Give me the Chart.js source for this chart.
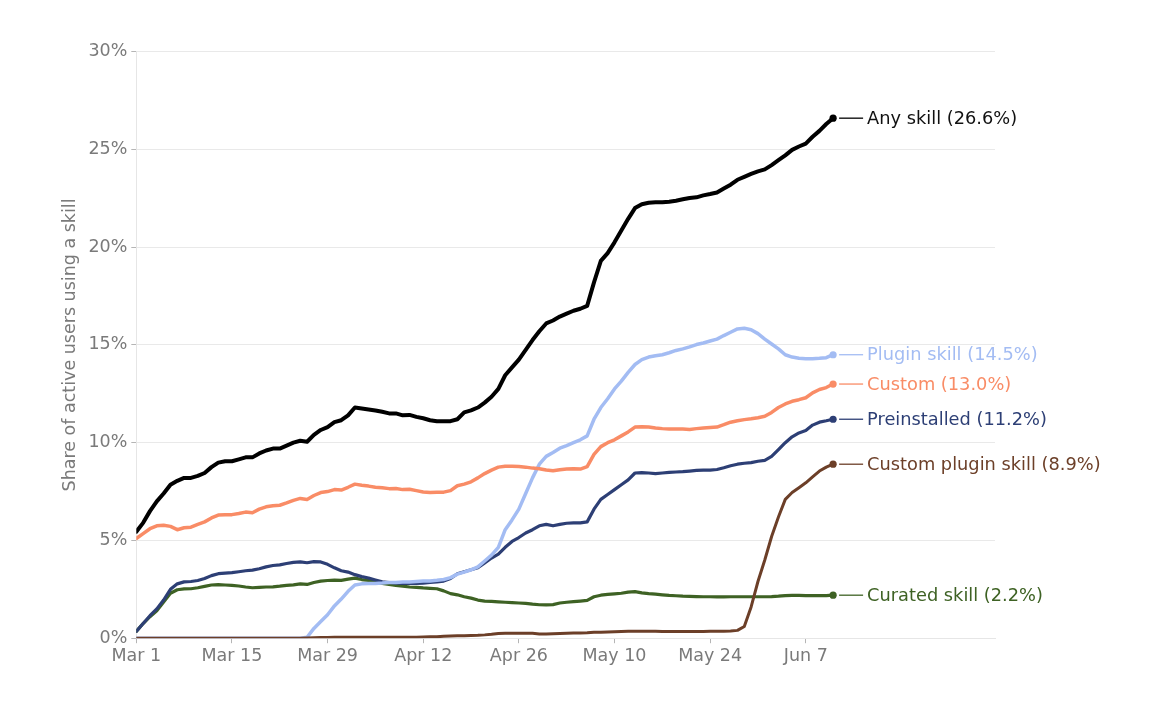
<!DOCTYPE html>
<html>
<head>
<meta charset="utf-8">
<script src="https://cdn.jsdelivr.net/npm/chart.js@4.4.1/dist/chart.umd.min.js"></script>
<style>
  html, body { margin: 0; padding: 0; background: #fff; }
  #wrap { width: 1157px; height: 708px; }
</style>
</head>
<body>
<div id="wrap"><canvas id="chart" width="1157" height="708"></canvas></div>
<script>
/* daily share of active users, Mar 1 (day 0) .. Jun 11 (day 102) */
var TICK_DAYS = [0, 14, 28, 42, 56, 70, 84, 98];
var TICK_LABELS = ['Mar 1', 'Mar 15', 'Mar 29', 'Apr 12', 'Apr 26', 'May 10', 'May 24', 'Jun 7'];
var Y_TICKS = [0, 5, 10, 15, 20, 25, 30];

var ANY_SKILL = [
  5.45, 5.9, 6.5, 7.0, 7.4, 7.85, 8.05, 8.2, 8.2, 8.3,
  8.45, 8.75, 8.98, 9.05, 9.05, 9.15, 9.25, 9.25, 9.45, 9.6,
  9.7, 9.7, 9.85, 10.0, 10.1, 10.05, 10.4, 10.65, 10.8, 11.05,
  11.15, 11.4, 11.8, 11.75, 11.7, 11.65, 11.58, 11.5, 11.5, 11.4,
  11.42, 11.32, 11.25, 11.15, 11.1, 11.1, 11.1, 11.2, 11.55, 11.65,
  11.8, 12.05, 12.35, 12.75, 13.45, 13.85, 14.25, 14.75, 15.25, 15.7,
  16.1, 16.25, 16.45, 16.6, 16.75, 16.85, 17.0, 18.2, 19.3, 19.7,
  20.25, 20.85, 21.45, 22.0, 22.2, 22.27, 22.3, 22.3, 22.33, 22.38,
  22.45, 22.52, 22.55, 22.65, 22.72, 22.8, 23.0, 23.2, 23.45, 23.6,
  23.75, 23.88, 23.98, 24.2, 24.45, 24.7, 24.98, 25.15, 25.3, 25.65,
  25.95, 26.3, 26.6
];

var PLUGIN_SKILL = [
  0, 0, 0, 0, 0, 0, 0, 0, 0, 0,
  0, 0, 0, 0, 0, 0, 0, 0, 0, 0,
  0, 0, 0, 0, 0, 0.05, 0.5, 0.85, 1.2, 1.65,
  2.0, 2.4, 2.72, 2.78, 2.8, 2.8, 2.82, 2.85, 2.85, 2.87,
  2.88, 2.9, 2.92, 2.93, 2.96, 3.0, 3.1, 3.28, 3.38, 3.5,
  3.65, 3.95, 4.25, 4.65, 5.55, 6.05, 6.6, 7.4, 8.2, 8.9,
  9.3, 9.5, 9.72, 9.85, 10.0, 10.15, 10.35, 11.2, 11.8, 12.25,
  12.75, 13.15, 13.6, 14.0, 14.25, 14.38, 14.45, 14.5, 14.6, 14.72,
  14.8, 14.9, 15.02, 15.1, 15.2, 15.3, 15.48, 15.65, 15.82, 15.85,
  15.78, 15.58, 15.3, 15.05, 14.8, 14.5, 14.38, 14.32, 14.3, 14.3,
  14.32, 14.35, 14.5
];

var CUSTOM = [
  5.1, 5.35, 5.6, 5.75, 5.78, 5.72, 5.55, 5.65, 5.68, 5.82,
  5.95, 6.15, 6.3, 6.32, 6.32, 6.38, 6.45, 6.42, 6.6, 6.72,
  6.78, 6.8, 6.92, 7.05, 7.15, 7.1, 7.3, 7.45, 7.5, 7.6,
  7.58, 7.72, 7.88, 7.82, 7.78, 7.72, 7.7, 7.65, 7.66, 7.6,
  7.62, 7.55, 7.48, 7.45, 7.46, 7.47, 7.55, 7.8, 7.88, 8.0,
  8.2, 8.42, 8.6, 8.75, 8.8, 8.8, 8.78, 8.75, 8.7, 8.67,
  8.6, 8.57, 8.62, 8.65, 8.67, 8.65, 8.78, 9.4, 9.8, 10.0,
  10.15, 10.35, 10.55, 10.8, 10.82, 10.8, 10.75, 10.72, 10.7, 10.7,
  10.7, 10.68, 10.72, 10.75, 10.78, 10.8, 10.92, 11.05, 11.12, 11.18,
  11.22, 11.28, 11.35, 11.55, 11.8, 11.98, 12.12, 12.2, 12.3, 12.55,
  12.72, 12.82, 13.0
];

var PREINSTALLED = [
  0.35, 0.75, 1.15, 1.5, 1.95, 2.5, 2.78, 2.88, 2.9, 2.95,
  3.05, 3.2, 3.3, 3.33, 3.35, 3.4, 3.45, 3.48, 3.55, 3.65,
  3.72, 3.75, 3.82, 3.88, 3.9, 3.86, 3.92, 3.9, 3.78, 3.6,
  3.45, 3.38, 3.25, 3.15, 3.08, 2.98, 2.88, 2.85, 2.82, 2.8,
  2.8, 2.8, 2.82, 2.85, 2.88, 2.92, 3.05, 3.3, 3.4, 3.5,
  3.6, 3.85, 4.1, 4.3, 4.65, 4.95, 5.15, 5.38, 5.55, 5.75,
  5.82, 5.75, 5.82, 5.88, 5.9, 5.9, 5.95, 6.6, 7.1, 7.35,
  7.6, 7.85, 8.1, 8.45, 8.47, 8.45, 8.42, 8.45, 8.48, 8.5,
  8.52, 8.55, 8.58, 8.6, 8.6, 8.63, 8.72, 8.82, 8.9, 8.95,
  8.98, 9.05, 9.1, 9.3, 9.65, 10.0, 10.3, 10.5, 10.62, 10.9,
  11.05, 11.12, 11.2
];

var CUSTOM_PLUGIN = [
  0, 0, 0, 0, 0, 0, 0, 0, 0, 0,
  0, 0, 0, 0, 0, 0, 0, 0, 0, 0,
  0, 0, 0, 0, 0, 0.01, 0.02, 0.03, 0.04, 0.05,
  0.05, 0.05, 0.05, 0.05, 0.05, 0.05, 0.05, 0.05, 0.05, 0.05,
  0.05, 0.05, 0.06, 0.07, 0.08, 0.1, 0.11, 0.12, 0.13, 0.14,
  0.15, 0.17, 0.2, 0.24, 0.25, 0.25, 0.25, 0.25, 0.25, 0.22,
  0.22, 0.23, 0.24, 0.25, 0.26, 0.27, 0.28, 0.3, 0.31, 0.32,
  0.33, 0.34, 0.35, 0.35, 0.35, 0.35, 0.35, 0.34, 0.34, 0.34,
  0.34, 0.34, 0.34, 0.34, 0.35, 0.35, 0.36, 0.37, 0.4, 0.6,
  1.6, 2.9, 4.0, 5.2, 6.2, 7.1, 7.45, 7.7, 7.95, 8.25,
  8.55, 8.75, 8.9
];

var CURATED = [
  0.35, 0.75, 1.1, 1.4, 1.85, 2.3, 2.48, 2.52, 2.53, 2.58,
  2.65, 2.72, 2.74, 2.72, 2.7, 2.67, 2.62, 2.58, 2.6, 2.62,
  2.63, 2.66, 2.7, 2.73, 2.78, 2.75, 2.85, 2.92, 2.95, 2.97,
  2.96, 3.02, 3.07, 3.0, 2.95, 2.88, 2.8, 2.75, 2.7, 2.66,
  2.62, 2.6, 2.57, 2.55, 2.53, 2.42, 2.28, 2.22, 2.12, 2.05,
  1.95, 1.9, 1.88, 1.86, 1.84, 1.82, 1.8, 1.78, 1.74, 1.71,
  1.7, 1.72, 1.8, 1.84, 1.87, 1.9, 1.93, 2.12, 2.2, 2.24,
  2.27, 2.3, 2.36, 2.38, 2.32, 2.28, 2.25, 2.22, 2.19, 2.17,
  2.15, 2.14, 2.13, 2.12, 2.12, 2.11, 2.11, 2.12, 2.12, 2.12,
  2.12, 2.12, 2.12, 2.13, 2.15, 2.18, 2.19, 2.19, 2.18, 2.18,
  2.18, 2.18, 2.2
];

var SERIES_NAMES = ['Any skill', 'Custom', 'Custom plugin skill', 'Plugin skill', 'Preinstalled', 'Curated skill'];
var SERIES_VALUES = [ANY_SKILL, CUSTOM, CUSTOM_PLUGIN, PLUGIN_SKILL, PREINSTALLED, CURATED];
var SERIES_COLORS = ['#000000', '#f98c66', '#6c3f28', '#a3bcf3', '#2d3f75', '#3e6224'];
var SERIES_WIDTHS = [4, 3.5, 3, 3.5, 3.2, 3.2];

var FONT = 'DejaVu Sans';
var GRAY = '#7a7a7a';

function toPoints(arr) {
  return arr.map(function (v, i) { return { x: i, y: v }; });
}

/* end-of-line labels: connector + "Name (xx.x%)" */
var endLabels = {
  id: 'endLabels',
  afterDatasetsDraw: function (chart) {
    var ctx = chart.ctx;
    ctx.save();
    ctx.font = '17.8px "' + FONT + '"';
    ctx.textBaseline = 'middle';
    ctx.textAlign = 'left';
    chart.data.datasets.forEach(function (ds, i) {
      var meta = chart.getDatasetMeta(i);
      var pt = meta.data[meta.data.length - 1];
      var last = ds.data[ds.data.length - 1].y;
      ctx.strokeStyle = ds.borderColor;
      ctx.lineWidth = 1.3;
      ctx.beginPath();
      ctx.moveTo(pt.x + 6, pt.y);
      ctx.lineTo(pt.x + 30, pt.y);
      ctx.stroke();
      ctx.fillStyle = i === 0 ? '#111' : ds.borderColor;
      ctx.fillText(ds.label + ' (' + last.toFixed(1) + '%)', pt.x + 34, pt.y + 1);
    });
    ctx.restore();
  }
};

var datasets = SERIES_NAMES.map(function (name, i) {
  var n = SERIES_VALUES[i].length;
  return {
    label: name,
    data: toPoints(SERIES_VALUES[i]),
    borderColor: SERIES_COLORS[i],
    backgroundColor: SERIES_COLORS[i],
    borderWidth: SERIES_WIDTHS[i],
    borderJoinStyle: 'round',
    borderCapStyle: 'round',
    tension: 0,
    pointRadius: function (c) { return c.dataIndex === n - 1 ? 3.6 : 0; },
    pointBorderWidth: 0,
    pointBackgroundColor: SERIES_COLORS[i]
  };
});

new Chart(document.getElementById('chart'), {
  type: 'line',
  data: { datasets: datasets },
  plugins: [endLabels],
  options: {
    responsive: false,
    animation: false,
    devicePixelRatio: 1,
    layout: { padding: { top: 51.7, right: 162, bottom: 0, left: 0 } },
    plugins: { legend: { display: false }, tooltip: { enabled: false } },
    scales: {
      x: {
        type: 'linear',
        min: 0,
        max: 125.7,
        afterBuildTicks: function (scale) {
          scale.ticks = TICK_DAYS.map(function (d) { return { value: d }; });
        },
        afterFit: function (scale) { scale.height = 69.8; },
        ticks: {
          autoSkip: false,
          maxRotation: 0,
          padding: 3,
          color: GRAY,
          font: { family: FONT, size: 17.5 },
          callback: function (v, idx) { return TICK_LABELS[idx]; }
        },
        grid: { drawOnChartArea: false, drawTicks: true, tickLength: 5, tickColor: '#b5b5b5' },
        border: { display: true, color: '#e6e6e6', width: 1 }
      },
      y: {
        min: 0,
        max: 30,
        afterBuildTicks: function (scale) {
          scale.ticks = Y_TICKS.map(function (v) { return { value: v }; });
        },
        afterFit: function (scale) { scale.width = 136.3; },
        ticks: {
          padding: 4,
          color: GRAY,
          font: { family: FONT, size: 17.5 },
          callback: function (v) { return v + '%'; }
        },
        grid: { color: '#e9e9e9', lineWidth: 1, tickLength: 5, tickColor: '#b5b5b5' },
        border: { display: true, color: '#e6e6e6', width: 1 },
        title: {
          display: true,
          text: 'Share of active users using a skill',
          color: GRAY,
          font: { family: FONT, size: 17.5 },
          padding: { top: 59.5, bottom: 0 }
        }
      }
    }
  }
});
</script>
</body>
</html>
